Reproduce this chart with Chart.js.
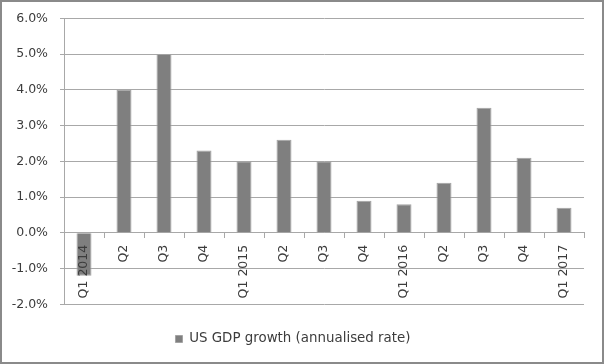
<!DOCTYPE html>
<html>
<head>
<meta charset="utf-8">
<script src="https://cdn.jsdelivr.net/npm/chart.js@4/dist/chart.umd.min.js"></script>
<style>
  html, body { margin: 0; padding: 0; background: #fff; }
  #wrap { width: 604px; height: 364px; box-sizing: border-box; border: 2px solid #8a8a8a; background: #fff; }
  canvas { display: block; }
</style>
</head>
<body>
<div id="wrap"><canvas id="gdp" width="600" height="360"></canvas></div>
<script>
// quarters along the x axis
const quarters = ['Q1 2014', 'Q2', 'Q3', 'Q4', 'Q1 2015', 'Q2', 'Q3', 'Q4', 'Q1 2016', 'Q2', 'Q3', 'Q4', 'Q1 2017'];
// annualised growth, percent
const gdpGrowth = [-1.2, 4.0, 5.0, 2.3, 2.0, 2.6, 2.0, 0.9, 0.8, 1.4, 3.5, 2.1, 0.7];
const seriesName = 'US GDP growth (annualised rate)';
const yMin = -2, yMax = 6, yStep = 1;

const textColor = '#3c3c3c';
const gridColor = '#a8a8a8';
const font = { family: "'DejaVu Sans', sans-serif", size: 12.5 };

const ctx = document.getElementById('gdp').getContext('2d');
new Chart(ctx, {
    type: 'bar',
    data: {
        labels: quarters,
        datasets: [{
            label: seriesName,
            data: gdpGrowth,
            backgroundColor: '#7f7f7f',
            borderColor: '#a3a3a3',
            borderWidth: 1,
            barPercentage: 0.375,
            categoryPercentage: 1
        }]
    },
    options: {
        responsive: false,
        animation: false,
        layout: { padding: { left: 0, right: 18, top: 16.3, bottom: 6.3 } },
        plugins: {
            tooltip: { enabled: false },
            legend: {
                position: 'bottom',
                labels: {
                    color: textColor,
                    font: { family: font.family, size: 13.4 },
                    boxWidth: 7,
                    boxHeight: 7,
                    padding: 28
                }
            }
        },
        scales: {
            x: {
                position: { y: 0 },
                grid: { display: true, drawOnChartArea: false, drawTicks: true, tickLength: 5, color: gridColor, offset: true },
                border: { display: true, color: gridColor },
                // z above 0 so the labels sit on top of the bars, like the Excel original
                ticks: { z: 1, color: textColor, font: font, minRotation: 90, maxRotation: 90, padding: 7, autoSkip: false }
            },
            y: {
                min: yMin,
                max: yMax,
                afterFit: s => {
                    s.width = 62;
                    // tick padding would otherwise push the plot down from the top
                    s.paddingTop = 0;
                    s.paddingBottom = 0;
                },
                grid: { color: gridColor, tickLength: 4 },
                border: { display: true, color: gridColor },
                ticks: {
                    stepSize: yStep,
                    color: textColor,
                    font: font,
                    padding: 12,
                    callback: v => v.toFixed(1) + '%'
                }
            }
        }
    }
});
</script>
</body>
</html>
